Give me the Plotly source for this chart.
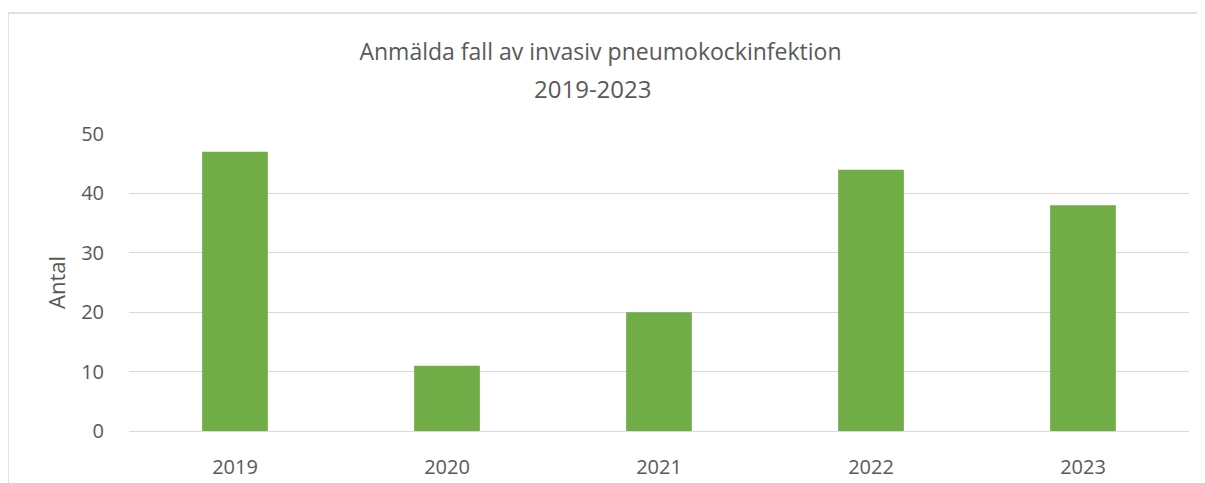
import plotly.graph_objects as go

years = ["2019", "2020", "2021", "2022", "2023"]
cases = [47, 11, 20, 44, 38]
y_ticks = [0, 10, 20, 30, 40, 50]
title_line1 = "Anmälda fall av invasiv pneumokockinfektion"
title_line2 = "2019-2023"

FONT = "Open Sans"
TXT = "#595959"
GRID = "#d9d9d9"

# page body has an 8px margin, so the figure is shrunk by 8px
OFF = 8
W, H = 1205 - OFF, 483 - OFF
L, R, T, B = 129 - OFF, 16, 134 - OFF, 52
PW, PH = W - L - R, H - T - B

fig = go.Figure()
fig.add_trace(go.Bar(x=years, y=cases, marker=dict(color="#70ad47", line=dict(width=0)),
                     hoverinfo="x+y"))

fig.update_layout(
    width=W, height=H,
    margin=dict(l=L, r=R, t=T, b=B),
    paper_bgcolor="white", plot_bgcolor="white",
    bargap=0.69,
    showlegend=False,
    font=dict(family=FONT, color=TXT, size=20),
    title=dict(text=title_line1,
               x=(600.5 - OFF) / W, xanchor="center", xref="container",
               y=1 - (52 - OFF) / H, yanchor="middle",
               font=dict(size=23, color=TXT, family=FONT)),
)
fig.add_annotation(text=title_line2, xref="paper", yref="paper",
                   x=(593 - OFF - L) / PW, xanchor="center", y=(H - B - (88 - OFF)) / PH,
                   yanchor="middle",
                   showarrow=False, font=dict(size=24, color=TXT, family=FONT))

fig.update_xaxes(type="category", showgrid=False, showline=False, zeroline=False,
                 automargin=False,
                 ticks="outside", ticklen=18, tickcolor="rgba(0,0,0,0)",
                 tickfont=dict(size=20, color=TXT))
fig.update_yaxes(range=[0, 50], tickvals=y_ticks, showgrid=True, gridcolor=GRID, gridwidth=1,
                 zeroline=True, zerolinecolor=GRID, zerolinewidth=1, showline=False,
                 automargin=False,
                 ticks="outside", ticklen=20, tickcolor="rgba(0,0,0,0)",
                 tickfont=dict(size=20, color=TXT),
                 title=dict(text="Antal", font=dict(size=22, color=TXT), standoff=9))

# chart frame
fig.add_shape(type="rect", xref="paper", yref="paper",
              x0=(8 - OFF - L) / PW, x1=1.1, y0=-0.4, y1=(H - B - (13 - OFF)) / PH,
              line=dict(color=GRID, width=1.5), fillcolor="rgba(0,0,0,0)", layer="below")

fig.write_html("out.html")
